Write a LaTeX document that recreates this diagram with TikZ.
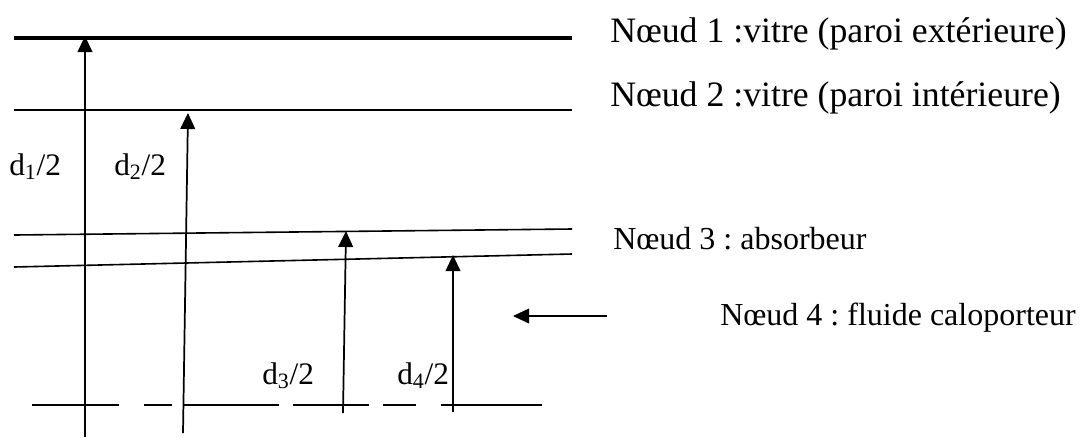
\documentclass[tikz,border=0pt]{standalone}
\usepackage{fontspec}
\setmainfont{Liberation Serif}
\usetikzlibrary{arrows.meta}
\frenchspacing
\begin{document}
\begin{tikzpicture}[x=0.75pt,y=-0.75pt,
  plate/.style={line width=1.2pt},
  glass/.style={line width=2.2pt},
  dim/.style={line width=1.3pt,-{Triangle[length=12pt,width=11pt]}},
  lbl/.style={inner sep=0pt,anchor=base west,font=\fontsize{24}{28}\selectfont},
  big/.style={font=\fontsize{26.8}{30}\selectfont},
  small/.style={font=\fontsize{23.5}{28}\selectfont},
  base/.style={line width=1.2pt}]
\useasboundingbox (0,0) rectangle (1084,437);
% horizontal lines
\coordinate (l1a) at (14,38); \coordinate (l1b) at (572,38);
\coordinate (l2a) at (14,110); \coordinate (l2b) at (572,110);
\coordinate (l3a) at (14,235); \coordinate (l3b) at (572,229);
\coordinate (l4a) at (14,267); \coordinate (l4b) at (572,254);
\draw[glass,line width=2.5pt] (l1a) -- (l1b);
\draw[glass] (l2a) -- (l2b);
\draw[plate] (l3a) -- (l3b);
\draw[plate] (l4a) -- (l4b);
% base dashed line
\foreach \a/\b [count=\i] in {32/119,144/172,183/279,293/369,383/416,441/542}{
  \coordinate (b\i a) at (\a,405); \coordinate (b\i b) at (\b,405);
  \draw[base] (b\i a) -- (b\i b);
}
% dimension arrows
\coordinate (a1s) at (85,437); \coordinate (a1e) at (85,36);
\coordinate (a2s) at (183,433); \coordinate (a2e) at (188,113);
\coordinate (a3s) at (343,413); \coordinate (a3e) at (346,231);
\coordinate (a4s) at (453,412); \coordinate (a4e) at (453,255);
\draw[dim] (a1s) -- (a1e);
\draw[dim] (a2s) -- (a2e);
\draw[dim] (a3s) -- (a3e);
\draw[dim] (a4s) -- (a4e);
% fluid arrow
\coordinate (fs) at (607,316); \coordinate (fe) at (513,316);
\draw[dim] (fs) -- (fe);
% labels
\node[lbl,small] (d1) at (9,175) {d\textsubscript{1}/2};
\node[lbl,small] (d2) at (114,175) {d\textsubscript{2}/2};
\node[lbl,small] (d3) at (262,384) {d\textsubscript{3}/2};
\node[lbl,small] (d4) at (397,384) {d\textsubscript{4}/2};
\node[lbl,big] (n1) at (610,42) {Nœud 1 :vitre (paroi extérieure)};
\node[lbl,big] (n2) at (610,106) {Nœud 2 :vitre (paroi intérieure)};
\node[lbl] (n3) at (613,249) {Nœud 3 : absorbeur};
\node[lbl] (n4) at (720,325) {Nœud 4 : fluide caloporteur};
\end{tikzpicture}
\end{document}
